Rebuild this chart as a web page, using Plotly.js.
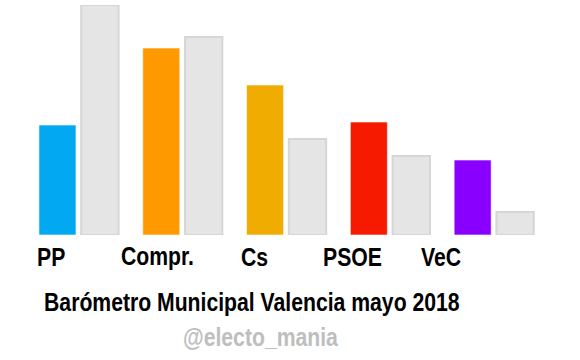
<!DOCTYPE html>
<html>
<head>
<meta charset="utf-8">
<script src="https://cdn.plot.ly/plotly-3.0.1.min.js"></script>
<style>
  html, body { margin: 0; padding: 0; background: #ffffff; }
  #chart { width: 580px; height: 360px; }
  /* The reference uses a narrow bold face: emulate it by stretching text vertically */
  #chart .annotation-text {
    transform-box: fill-box;
    transform-origin: center;
    transform: scaleY(1.22);
  }
</style>
</head>
<body>
<div id="chart"></div>
<script>
// Data
var categories = ['PP', 'Compr.', 'Cs', 'PSOE', 'VeC'];
var currentValues = [110, 187, 150, 113, 75];
var previousValues = [230, 198, 96, 79, 23];
var partyColors = ['#02A9F1', '#FF9900', '#F0AC00', '#F51A00', '#8A00FF'];

var chartTitle = 'Barómetro Municipal Valencia mayo 2018';
var watermark = '@electo_mania';

// Layout constants
var labelShift = [-28, -25, -32, -38, -53];
var FONT = "'Liberation Sans', Arial, sans-serif";
var FSIZE = 21.2;

var traces = [
  {
    type: 'bar',
    x: categories,
    y: currentValues,
    width: 0.357,
    offset: -0.385,
    marker: { color: partyColors, line: { color: 'rgba(255,255,255,0.6)', width: 1 } },
    hoverinfo: 'skip'
  },
  {
    type: 'bar',
    x: categories,
    y: previousValues,
    width: 0.36,
    offset: 0.022,
    marker: { color: '#E5E5E5', line: { color: '#D6D6D6', width: 2 } },
    hoverinfo: 'skip'
  }
];

var annotations = categories.map(function (c, i) {
  return {
    x: c, xref: 'x', y: 0, yref: 'paper',
    text: '<b>' + c + '</b>',
    showarrow: false,
    xanchor: 'center', yanchor: 'middle',
    xshift: labelShift[i], yshift: -21,
    font: { family: FONT, size: FSIZE, color: '#000000' }
  };
});

annotations.push({
  x: (251.5 - 27) / 519, xref: 'paper', y: 0, yref: 'paper',
  text: '<b>' + chartTitle + '</b>',
  showarrow: false, xanchor: 'center', yanchor: 'middle',
  yshift: -67,
  font: { family: FONT, size: FSIZE, color: '#000000' }
});
annotations.push({
  x: (260 - 27) / 519, xref: 'paper', y: 0, yref: 'paper',
  text: '<b>' + watermark + '</b>',
  showarrow: false, xanchor: 'center', yanchor: 'middle',
  yshift: -101,
  font: { family: FONT, size: FSIZE, color: '#BEBEBE' }
});

var layout = {
  width: 580, height: 360,
  margin: { l: 27, r: 34, t: 5, b: 125 },
  paper_bgcolor: '#ffffff', plot_bgcolor: '#ffffff',
  showlegend: false,
  barmode: 'overlay',
  xaxis: { type: 'category', range: [-0.5, 4.5], showticklabels: false, showgrid: false, zeroline: false, showline: false, ticks: '', fixedrange: true },
  yaxis: { range: [0, 230], showticklabels: false, showgrid: false, zeroline: false, showline: false, ticks: '', fixedrange: true },
  annotations: annotations
};

Plotly.newPlot('chart', traces, layout, { displayModeBar: false, staticPlot: true });
</script>
</body>
</html>
